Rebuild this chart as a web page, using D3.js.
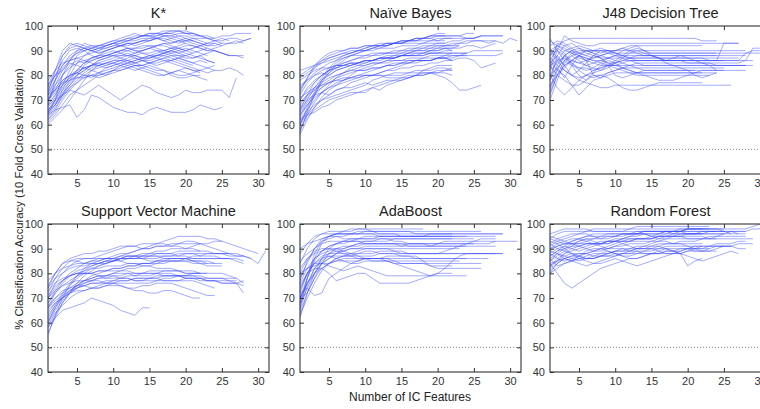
<!DOCTYPE html>
<html><head><meta charset="utf-8">
<script src="https://cdn.jsdelivr.net/npm/d3@7"></script>
<style>
body{margin:0;background:#fff}
svg{display:block}
text{font-family:"Liberation Sans",Arial,Helvetica,sans-serif}
</style>
</head><body><svg id="c" width="760" height="409"></svg>
<script>
const titles = ["K*", "Naïve Bayes", "J48 Decision Tree", "Support Vector Machine", "AdaBoost", "Random Forest"];
const xTicks = [5, 10, 15, 20, 25, 30];
const yTicks = [40, 50, 60, 70, 80, 90, 100];
const xLabel = "Number of IC Features";
const yLabel = "% Classification Accuracy (10 Fold Cross Validation)";
const chanceLevel = 50;

// each series: accuracy at 1, 2, 3, ... IC features
const kstar = [
[62,66,72,78,82,85,87,88,90,91,92,93,93,94,95,95,96,96,97,97,96,96,95,95,96,96,97,97,97],
[65,70,76,82,88,90,91,90,92,93,94,94,95,96,96,97,97,98,98,97,97,96,95,94,94,95,95,94,95],
[70,74,80,84,86,85,86,87,88,88,89,90,89,90,91,92,92,91,92,93,92,91,90,90,89,88,88,88],
[66,70,74,77,80,82,84,85,84,85,86,86,87,86,85,86,87,88,87,86,85,84,83,82,82,83,82,80],
[64,66,67,68,63,66,72,71,69,67,66,65,65,64,66,67,66,65,65,65,66,68,67,66,67],
[68,70,72,74,73,72,74,76,74,72,70,72,74,76,75,73,72,71,72,74,73,73,74,74,74,71,79],
[72,78,84,88,90,91,90,89,90,91,92,93,92,93,94,95,94,93,94,95,94,93,92,93],
[75,80,82,86,90,93,92,91,92,93,93,94,95,96,96,96,97,97,96,96,95,94,93,93,92],
[68,72,78,80,82,83,82,81,80,82,84,85,84,83,82,81,80,81,82,83,82,81],
[70,75,78,80,81,80,79,81,83,84,85,86,85,84,85,86,87,86,85,84,83,82,81,82],
[64,68,74,80,85,88,90,91,91,92,93,94,94,95,95,96,97,97,98,98,97,96],
[66,69,72,75,77,79,80,81,82,83,84,85,86,87,88,88,89,90,89,90,91,92,91,90,89,88],
[61,64,68,72,74,76,78,80,81,82,82,83,84,84,85,85,86,86,87,86,85,86,85],
[74,80,86,90,91,90,88,87,88,89,90,91,90,89,88,89,90,91,90,89,88,87,86,85],
[78,82,85,86,87,86,85,84,83,84,85,84,83,82,81,80,80,81,82,81,80,79,78],
[67,71,75,78,80,82,84,85,86,87,88,88,89,90,91,92,93,93,94,94,94,93,92,92,93,93,94,93],
[70,73,76,79,82,85,87,88,89,90,89,88,87,86,86,87,88,89,90,91,90,89,88],
[63,67,71,75,78,81,83,84,85,86,86,87,88,87,87,88,89,90,89,88],
[72,76,80,83,85,86,87,88,88,89,90,90,91,91,92,92,93,92,91,90,91,92,93,94,95,94],
[76,82,88,92,93,92,91,92,93,94,95,96,97,96,96,95,94,95,96,95,94],
[69,72,76,79,81,83,84,84,85,85,84,83,82,83,84,83,82,80,79,79,80,80],
[73,78,83,86,87,88,89,90,91,92,92,93,93,94,94,95,95,94,93,94,95,95,95,94,93],
[65,68,73,76,79,79,80,80,81,82,83,84,85,86,85,84,85,86,87,88,87,88,86,85],
[71,74,77,80,81,83,84,86,87,88,88,89,88,87,88,87,86,85,84,83,82,82,83,84],
[62,65,70,74,77,80,82,83,84,85,86,85,86,87,87,88,89,90,91,92,92,91,90,91,92,93,93,94,95],
[68,78,88,91,92,91,90,91,92,93,94,95,95,96,97,97,96,95,94,93],
[73,82,90,93,92,91,90,89,90,91,92,92,93,94,94,95,96,96,95,94,93,92,93],
[64,70,80,86,89,91,92,92,93,94,94,95,96,96,97,97,98,98,98,97,97,96,96,95],
[70,76,82,85,84,83,84,86,87,88,87,86,85,86,87,88,88,87,86,85,84],
[60,63,66,70,74,78,82,84,85,86,87,88,88,89,89,90,90,91,91,90,89,90,91],
[76,80,84,87,89,90,91,92,92,93,92,91,90,90,91,90,89,88,88,87,87,88,89,90,89,88,88,87],
[66,68,72,76,80,84,86,87,88,89,90,91,91,92,92,91,90,89,88,88,89],
[72,74,77,78,79,80,80,79,80,81,82,83,84,84,83,82,82,81,80,80,81,82]
];

const naiveBayes = [
[56,62,67,71,74,76,78,80,82,83,84,85,86,87,88,89,90,91,92,93,93,94,94,95,95,96,96,96,96],
[60,66,72,77,81,84,86,88,89,90,91,91,92,93,93,94,94,95,95,96,96,96,96,97,97],
[65,70,75,79,83,86,88,89,90,90,91,92,92,93,93,94,94,95,96,97,97],
[58,63,66,68,70,71,72,73,73,74,75,76,77,78,78,79,80,80,81,80,79,77,74,74,75,76],
[62,64,65,67,68,70,71,72,73,73,75,74,76,77,78,79,80,82,83,84,84,84],
[70,75,78,80,82,84,85,86,87,87,88,88,89,89,90,90,91,91,91,92,92,93,93,94,94,94,93,94,93,95,94],
[72,77,80,82,83,84,84,85,85,86,86,87,87,87,88,88,88,88,89,89,89,89,89,89,90,90,90,90,90],
[64,68,72,75,77,79,80,81,82,82,83,83,84,84,85,85,86,86,86,87,87,86,87,87,86,83,84,85],
[60,67,73,78,81,83,85,86,87,88,88,89,89,90,90,91,91,92,92,92,92,92,92],
[75,78,81,83,85,86,87,88,88,88,89,89,89,89,89,90,90,90,90,91,91,90],
[68,72,74,76,77,78,78,79,79,80,80,80,80,81,81,81,82,82,82,83,83,82],
[62,66,70,73,75,77,78,79,80,81,82,83,84,85,85,86,86,87,87,87,88,88,88,89],
[58,64,69,73,76,79,81,83,84,85,86,87,88,88,89,89,90,90,91,91,92,92,93,93,94,94,94,94],
[78,80,82,83,83,84,84,85,84,84,85,85,85,86,86,86,86,86,86,87,87,86],
[82,83,84,85,86,87,88,89,90,91,92,93,93,93,94,94,95,95,95,94,95,95],
[66,70,72,73,72,74,75,75,76,77,76,77,78,78,79,79,80,80,81,82,82,83],
[61,65,68,70,71,72,73,74,75,76,78,79,80,80,80,81,81,81,81,81,81,80],
[70,74,77,80,82,83,84,85,85,86,86,87,87,87,88,88,88,88,89,89,89,89],
[74,79,83,86,88,89,90,91,91,92,92,92,93,93,93,93,93,93,94,94,94],
[67,71,74,77,79,80,81,82,82,82,83,83,84,84,85,85,86,86,86,87,87,87,88,88,88,88,88,88,89],
[63,68,71,73,75,76,77,78,79,80,80,81,82,82,83,83,84,84,85,85,86,86],
[76,78,80,81,80,82,83,84,85,86,86,87,87,87,88,88,89,89,90,90,91,91,92],
[80,82,84,86,87,88,89,90,90,91,92,92,92,93,94,94,95,95,96,96,96],
[71,73,75,76,78,80,81,82,83,84,85,85,86,86,86,87,87,87,88,88,88,89,89,89],
[57,65,72,78,82,85,87,88,89,90,91,92,92,93,94,94,95,95,96,96,96,96,96,95,95,96],
[66,72,77,80,82,83,84,84,85,85,86,86,87,87,88,88,88,89,89,89,90,90],
[60,64,67,70,72,74,75,77,78,79,80,81,82,83,84,85,85,86,86,87,87,88,88,88],
[73,79,84,87,89,90,90,91,91,92,92,92,93,93,93,94,94,94,94,95,95,95,95,95,95,96,96,96,96],
[64,69,73,75,77,78,79,79,80,80,80,80,79,79,79,80,80,81,81,81,82,82],
[69,72,75,78,80,82,83,84,85,86,86,87,87,88,88,89,89,89,90,90,91,91,91,92,92,91,92,93],
[79,81,83,85,87,88,89,89,90,90,90,91,91,91,92,92,92,93,93,93,93]
];

const j48 = [
[72,80,84,86,88,87,86,86,85,85,86,86,86,86,86,86,86,86,86,86,86,86,86,86,86,86,86,89,90,90,89],
[88,92,94,95,95,95,95,95,95,95,95,95,95,95,95,95,95,95,95,95,95,94,94,94],
[82,90,96,94,93,92,92,93,93,93,93,93,93,93,93,93,93,93,93,93,93,93,93,93,93,93,93],
[85,88,84,80,78,77,76,75,75,76,76,76,76,76,76,76,76,76,76,76,76,76,76,76,76,76],
[90,86,82,80,82,85,88,87,84,80,79,80,81,82,82,82,82,82,82,82,82,82,82,82,82,82,82,82],
[78,84,88,90,89,88,90,91,90,89,88,87,86,86,86,86,86,86,86,86,86,86,86,86,86],
[80,75,72,75,78,80,82,83,84,84,84,84,84,84,84,84,84,84,84,84,84,84,84,84,84,84,84,84,84],
[94,92,90,91,92,91,90,89,90,90,91,92,92,92,92,92,92,92,92,92,92,92],
[75,83,79,84,88,86,80,79,81,82,83,83,83,83,83,83,83,83,83,83,83,83,83,83,83],
[86,82,80,76,72,75,78,79,80,81,81,81,81,81,81,81,81,81,81,81,81,81],
[88,90,88,86,85,86,87,88,89,88,87,86,85,84,84,84,84,84,84,84,84,84,84,84,84,84,84,84],
[70,78,85,88,86,84,85,86,87,88,90,91,92,90,88,87,85,84,83,82,80,79,80,81],
[92,94,93,91,89,88,87,88,89,90,91,90,89,88,88,88,88,88,88,88,88,88,88,88],
[84,80,78,76,76,78,80,80,79,77,75,74,74,75,76,77,77,77,77,77,77,77],
[95,90,86,84,83,83,82,83,84,85,86,87,88,88,88,87,86,87,88,87,86,85,84,82,82],
[80,86,90,89,88,87,86,85,84,83,82,81,80,80,80,80,80,80,80,80,80,80,80],
[76,80,83,86,85,84,83,82,83,85,87,89,90,89,88,87,86,86,86,85,85,85,85,85,85,85,85,86,91,91],
[90,92,91,89,87,86,88,90,90,89,88,87,87,87,87,87,87,87,87,87,87,87,86,86,93,93,93],
[82,85,88,90,91,90,89,88,87,86,85,84,83,82,82,82,82,82,82,82,82],
[87,84,82,80,79,80,81,82,84,86,88,90,91,90,89,89,89,89,89,89,89,89,89,89],
[73,80,86,89,90,90,90,90,90,90,90,90,90,90,90,90,90,90,90,90,90,90,90,90,90,90,90,90],
[84,86,87,85,82,80,79,80,81,82,83,84,85,85,85,85,85,85,85,85,85,85,85,84,84,84,84,84],
[78,88,92,93,91,89,88,87,87,87,87,87,87,87,87,87,87,87,87,87,87,87,87,87,87,87,87],
[86,91,89,85,83,82,83,85,87,88,88,88,88,88,88,88,88,88,88,88,88,88,88,88,88,88,88,88],
[74,82,88,84,80,78,81,84,86,85,83,82,81,81,81,81,81,81,81,81,81,81,81,81],
[91,87,84,86,88,90,89,87,85,84,83,82,81,80,79,78,78,78,79,80,81,82,82,82],
[80,83,86,88,89,90,90,90,89,89,89,89,89,89,89,89,89,89,89,89,89,89,89,89,89,89,89,89,89,89,89],
[83,93,92,90,88,86,85,84,84,84,85,86,86,86,86,86,86,86,86,86,86,86,86,86,86,86,86,86,86]
];

const svm = [
[56,62,68,72,76,79,81,83,84,85,86,87,87,88,88,89,89,90,90,90,90,89,89,88,88,87,87,87,86,84,89],
[60,66,71,75,78,80,82,83,84,85,86,86,87,87,87,88,88,88,87,87,86,86,86,86,86,86,86,85],
[64,68,70,72,74,75,76,76,77,77,78,78,77,77,78,78,77,77,77,78,78,77,77,77,76,76,76,75],
[58,62,65,66,67,68,70,69,68,67,65,64,63,66,66],
[66,70,73,74,75,75,74,74,75,76,75,74,73,73,72,72,73,73,72,71,70,70],
[70,76,80,83,85,86,86,87,88,89,90,91,91,90,90,91,91,92,92,93,93,92,92,93,93,92,91,90,89,88],
[68,73,77,80,82,84,85,86,86,87,88,88,89,90,91,92,93,94,95,95,95,95,94,94,93],
[72,78,82,85,86,86,86,86,86,86,85,84,84,83,83,82,82,82,81,81,81,80],
[61,66,70,73,75,77,78,79,79,80,80,80,79,79,79,80,80,80,79,78,78,78,77,77,76,76,76,77],
[74,78,80,82,83,83,84,84,85,85,86,86,86,87,87,87,86,86,86,86,85,85,85,84,84],
[59,64,67,70,72,73,74,75,76,76,77,77,78,78,78,78,79,79,79,79,79,78,78,78,78,77,76,72],
[66,72,76,79,81,82,83,84,84,85,85,86,86,86,87,87,87,87,88,88,88,88,88,88,88,88,88,87],
[77,80,82,83,84,84,85,85,86,86,86,87,87,87,88,88,88,88,89,89,89,89],
[70,73,75,76,77,77,77,77,76,76,76,76,76,76,76,77,77,77,77,77,77,76,75,74],
[63,67,70,73,75,76,77,78,78,79,79,80,80,80,81,81,81,81,81,80,80,80,80],
[68,72,75,77,79,80,80,81,81,82,82,83,83,84,84,85,85,86,86,86,86,86,86,86,86,86],
[75,80,84,86,87,88,88,89,89,90,91,91,91,92,92,92,92,91,91,90,91,92],
[65,68,70,72,73,73,74,74,75,75,75,74,74,75,75,76,76,76,75,74,73,72,71,71],
[71,75,77,79,80,81,82,82,83,83,83,84,84,84,84,85,85,85,85,85,85,84,83,83,83],
[73,76,78,79,80,80,80,81,81,81,81,81,80,80,80,80,79,79,79,79,79,79,78,78,78,78,78],
[60,65,69,72,74,76,77,78,79,80,81,82,82,83,83,84,84,85,85,86,87,87,88,88,88,88,87,87,86],
[67,70,72,74,76,77,78,79,79,79,78,78,77,77,77,77,78,78,79,79,80,80,80,80,80,79,78,76],
[55,63,70,75,79,82,84,85,86,86,87,87,87,86,86,86,87,87,87,88,88,87,87,87,86,86,85,84],
[62,67,72,76,79,81,83,84,85,86,87,88,89,90,90,91,91,91,92,92,92,92,91,90,89,88],
[70,74,77,79,80,80,80,79,78,78,78,79,79,80,80,80,81,81,81,80,80,80],
[66,69,71,73,74,75,76,76,76,77,77,77,78,78,78,79,79,79,79,78,78,78,77,77,77,77,77],
[74,80,84,85,85,84,84,84,85,85,86,86,86,86,85,85,86,86,86,86,85,85,84,84],
[58,63,68,72,75,77,79,80,81,82,82,83,83,84,84,84,85,85,85,85,84,84,84]
];

const adaBoost = [
[62,72,80,86,90,92,93,94,94,95,95,95,95,95,95,95,95,95,96,96,96,96,96,96,96,96,96,96,96],
[68,78,86,92,95,96,97,97,98,98,98,98,98,98,98,98,98,98],
[70,76,80,84,86,88,89,90,90,91,91,91,91,91,91,92,92,92,92,92,92,92,92,92,92,92,92,93,93,93,93],
[75,80,82,82,80,77,78,79,80,80,78,76,76,76,76,76,77,78,79,80,80,80],
[80,82,84,84,83,82,81,82,83,82,81,80,79,79,79,79,79,79,79,79,79,79,79,79],
[73,80,84,87,88,89,89,90,90,90,90,90,90,89,88,88,88,88,88,88,88,88,88,88,88,88,88,88,88],
[65,75,82,86,88,88,88,87,86,86,85,85,85,85,84,84,84,84,84,84,84,84,84,84,84,84],
[78,84,90,94,95,96,96,96,97,97,97,96,96,96,95,95,95,95,95,95,95,95,95,95,95,95,95,95],
[70,78,85,89,91,92,93,93,94,94,94,94,94,93,93,92,92,92,91,91,91,91,91,91],
[85,88,90,92,93,93,93,93,93,92,92,92,92,92,92,92,92,92,92,92,92,92,92,92,93,94,94,94],
[72,74,71,72,78,80,82,84,85,86,86,86,87,87,87,87,86,86,86,86,86,86,86,86],
[80,86,89,90,90,89,88,88,88,89,89,88,88,88,87,87,87,85,83,82,82,82,82,82,82,82],
[67,74,80,84,86,88,90,91,92,93,93,94,94,94,94,94,94,94,94,94,94,94],
[88,92,95,96,96,96,96,96,96,96,96,95,95,95,95,95,95,95,95,95,95,95,95,95],
[70,76,80,82,84,85,86,86,86,86,86,86,86,85,85,85,85,85,85,85,85,85,85],
[76,82,86,88,89,90,90,91,91,92,92,92,92,92,91,91,91,91,91,92,93,93,93,93,93,93,93,93],
[64,72,78,82,84,86,87,87,88,88,88,89,89,89,89,88,88,88,88,88,89,90,91,92,92],
[82,86,88,89,90,90,89,88,87,86,86,86,85,84,83,82,81,80,79,80,82,85,87,88,88,88,88,88],
[74,80,84,86,87,87,87,87,87,87,87,88,88,88,88,88,88,88,88,88,88,88,88,88,88,88,88,88,88],
[90,92,93,94,95,95,94,94,94,94,94,95,95,95,95,95,95,95,95,95,95,95],
[68,76,82,85,87,86,85,84,84,85,85,85,85,84,84,84,84,84,83,83,83,83],
[77,85,90,93,94,95,95,96,96,96,96,96,96,96,96,96,96,96,96,96,96,96,96,96,96,96,96,96,96],
[66,78,88,93,95,96,96,96,96,97,97,97,97,97,97,97,96,96,96,96,96,96],
[72,80,86,89,91,92,92,93,93,93,93,93,93,94,94,94,94,94,94,94,94,94,94,94,94],
[79,82,83,84,84,85,85,85,85,86,86,86,86,86,86,86,86,86,86,86,86,86,86,86,86,86,86],
[70,72,78,84,88,90,91,91,92,92,92,92,92,92,92,91,91,91,91,91,91,91,91,91,91,91,91,91],
[84,90,94,96,97,97,97,98,98,98,97,97,97,97,97,97,97,97,97,97,97,97,97,97,97,97],
[63,70,76,81,84,86,87,88,89,90,90,90,90,90,90,90,90,90,90,90,90,90,90]
];

const randomForest = [
[82,85,88,89,90,91,92,92,93,94,94,95,95,96,96,96,97,97,97,98,98,98,98,98,98,98,98,98,99,100],
[84,80,76,74,76,78,80,82,83,84,85,86,86,87,88,88,89,89,90,90,90,90,91,91,91,91,92,92,92],
[90,92,93,94,94,95,95,95,96,96,96,96,96,97,97,97,97,97,98,98,98,98,98,98,97,97,97,97,98,98,95],
[88,90,91,90,89,90,91,92,93,93,92,91,90,91,92,93,94,95,95,96,96,97,97,97,97,97,96,96],
[94,96,97,97,97,97,98,98,98,98,98,98,99,99,99,99,99,99,99,99,99,99,99],
[86,88,87,86,85,86,87,88,89,88,87,87,88,89,90,91,90,89,88,89,90,90,90,91,91,91],
[92,90,89,91,93,94,93,92,92,93,94,95,96,96,95,94,95,96,97,97,97,97,97,97,97],
[85,87,89,88,86,85,84,84,85,86,85,84,83,84,85,86,87,88,88,83,85,86],
[91,93,94,95,96,96,95,94,94,95,96,96,96,96,95,96,96,97,97,96,96,96,97,97,97,96],
[83,86,88,90,91,92,92,92,93,93,93,94,94,94,94,95,95,95,95,94,94,94,95,95,95,95,95,95],
[89,88,86,85,87,89,90,90,89,88,87,86,86,87,88,89,90,89,88,87,86,85,86,87,88,89,88],
[96,97,98,98,98,98,97,97,97,97,97,97,97,97,97,97,97,97,97,98,98,98,98],
[80,84,86,87,87,86,86,87,87,88,88,88,89,89,89,90,90,90,90,90,91,91,91,92,92,92,93,93],
[93,92,90,88,87,86,86,87,88,89,89,90,90,90,91,91,92,92,92,91,90,89,89,90,91],
[87,89,91,93,94,93,92,91,90,91,92,93,94,94,95,95,96,96,96,96,96,96,96,96,96],
[84,85,86,85,84,83,84,85,86,87,88,89,90,90,90,89,88,88,89,90,90,91,91,91,91,91,90,90],
[90,91,92,92,92,92,92,93,93,93,94,94,94,94,94,95,95,95,95,95,95,95,94,94],
[86,83,84,85,86,87,88,88,88,89,90,90,91,91,91,92,92,92,92,92,92,92],
[95,94,93,92,92,93,94,95,95,95,96,96,96,97,97,97,97,96,96,96,96,96],
[81,84,86,87,88,88,89,89,90,90,90,89,89,88,88,88,89,89,89,90,89,89,90],
[92,94,95,96,96,97,97,97,97,97,97,98,98,98,98,98,98,98,98,98,98,98],
[88,86,85,86,87,88,89,90,90,91,91,92,92,92,93,93,93,92,93,93,93,94,94,95,96,97,97,97],
[85,88,90,92,93,94,94,94,95,95,95,96,96,96,96,96,97,97,97,97,97,97,97,97],
[89,91,92,92,91,90,89,90,91,92,93,93,94,94,94,95,95,95,96,96,96,96,96,96,96,96,96],
[83,85,87,88,88,88,87,87,88,89,89,89,90,90,90,90,91,91,91,91,91,91],
[94,93,92,93,94,95,96,96,96,96,96,96,97,97,97,97,97,97,97,98,98,98,98,98,98],
[87,89,90,91,91,92,92,92,92,93,93,93,93,93,93,94,94,94,94,94,94,94,94,94,94,94,94,94,94],
[80,82,84,85,86,86,86,87,87,87,88,88,88,88,88,88,88,88,88,89,89,89,89,89]
];

const panelData = [kstar, naiveBayes, j48, svm, adaBoost, randomForest];

const svg = d3.select("#c");
const lefts = [48, 300, 550], tops = [26, 224];
const W = 221, H = 148;
const x = d3.scaleLinear().domain([1, 31.5]).range([0, W]);
const y = d3.scaleLinear().domain([40, 100]).range([H, 0]);
const line = d3.line().x((d, i) => x(i + 1)).y(d => y(d));

svg.append("defs").append("clipPath").attr("id", "clip")
  .append("rect").attr("width", W).attr("height", H);

panelData.forEach((series, p) => {
  const g = svg.append("g")
    .attr("transform", `translate(${lefts[p % 3]},${tops[Math.floor(p / 3)]})`);

  const plot = g.append("g").attr("clip-path", "url(#clip)");
  plot.append("line")
    .attr("x1", 0).attr("x2", W)
    .attr("y1", y(chanceLevel)).attr("y2", y(chanceLevel))
    .attr("stroke", "#9a6a6a").attr("stroke-width", 0.9)
    .attr("stroke-dasharray", "1,2");
  plot.selectAll("path.s").data(series).join("path")
    .attr("class", "s")
    .attr("d", line)
    .attr("fill", "none")
    .attr("stroke", "#3344ff")
    .attr("stroke-opacity", 0.5)
    .attr("stroke-width", 0.9);

  const styleAxis = a => {
    a.select(".domain").remove();
    a.selectAll("line").attr("stroke", "#333");
    a.selectAll("text").attr("fill", "#333").style("font-size", "11px")
      .style("font-family", '"Liberation Sans",Arial,sans-serif');
  };
  g.append("g").attr("transform", `translate(0,${H})`)
    .call(d3.axisBottom(x).tickValues(xTicks).tickSizeInner(-4).tickSizeOuter(0).tickPadding(5))
    .call(styleAxis);
  g.append("g")
    .call(d3.axisTop(x).tickValues(xTicks).tickSizeInner(-4).tickSizeOuter(0).tickFormat(""))
    .call(styleAxis);
  g.append("g")
    .call(d3.axisLeft(y).tickValues(yTicks).tickSizeInner(-4).tickSizeOuter(0).tickPadding(5))
    .call(styleAxis);
  g.append("g").attr("transform", `translate(${W},0)`)
    .call(d3.axisRight(y).tickValues(yTicks).tickSizeInner(-4).tickSizeOuter(0).tickFormat(""))
    .call(styleAxis);

  g.append("rect").attr("width", W).attr("height", H)
    .attr("fill", "none").attr("stroke", "#333").attr("stroke-width", 1.1);

  g.append("text")
    .attr("x", W / 2).attr("y", -8)
    .attr("text-anchor", "middle")
    .attr("fill", "#222")
    .style("font-size", "14.5px")
    .text(titles[p]);
});

svg.append("text")
  .attr("transform", "translate(23,199) rotate(-90)")
  .attr("text-anchor", "middle")
  .attr("fill", "#222")
  .style("font-size", "11.3px")
  .text(yLabel);

svg.append("text")
  .attr("x", 410).attr("y", 401)
  .attr("text-anchor", "middle")
  .attr("fill", "#222")
  .style("font-size", "12px")
  .text(xLabel);
</script>
</body></html>
